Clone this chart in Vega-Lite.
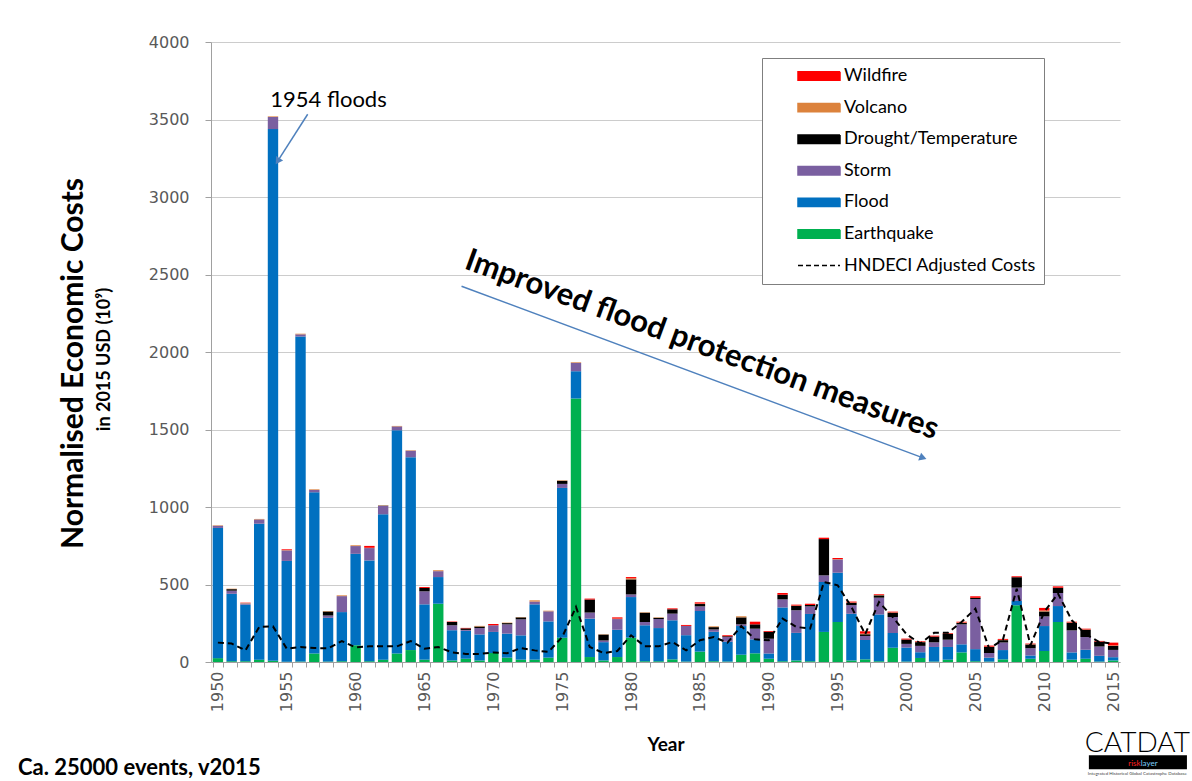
{
  "$schema": "https://vega.github.io/schema/vega-lite/v6.json",
  "width": 909,
  "height": 620,
  "autosize": {"type": "none"},
  "padding": {"left": 211, "top": 42, "right": 72, "bottom": 119},
  "background": "white",
  "title": {
    "text": "Ca. 25000 events, v2015",
    "orient": "bottom",
    "anchor": "start",
    "frame": "group",
    "font": "Lato",
    "fontSize": 22,
    "fontWeight": "bold",
    "color": "black",
    "dx": -193,
    "offset": -18
  },
  "config": {
    "view": {"stroke": null},
    "font": "Lato"
  },
  "datasets": {
    "stackRank": [
      {"hazard": "Earthquake", "rank": 1},
      {"hazard": "Flood", "rank": 2},
      {"hazard": "Storm", "rank": 3},
      {"hazard": "Drought/Temperature", "rank": 4},
      {"hazard": "Volcano", "rank": 5},
      {"hazard": "Wildfire", "rank": 6}
    ]
  },
  "data": {
    "values": [
      {"year": 1950, "Earthquake": 25, "Flood": 840, "Storm": 14, "Drought/Temperature": 0, "Volcano": 3, "Wildfire": 0, "HNDECI": 125},
      {"year": 1951, "Earthquake": 5, "Flood": 435, "Storm": 20, "Drought/Temperature": 10, "Volcano": 3, "Wildfire": 0, "HNDECI": 119},
      {"year": 1952, "Earthquake": 5, "Flood": 365, "Storm": 8, "Drought/Temperature": 0, "Volcano": 3, "Wildfire": 2, "HNDECI": 75},
      {"year": 1953, "Earthquake": 15, "Flood": 877, "Storm": 28, "Drought/Temperature": 0, "Volcano": 3, "Wildfire": 0, "HNDECI": 226},
      {"year": 1954, "Earthquake": 8, "Flood": 3430, "Storm": 78, "Drought/Temperature": 0, "Volcano": 4, "Wildfire": 0, "HNDECI": 230},
      {"year": 1955, "Earthquake": 2, "Flood": 650, "Storm": 68, "Drought/Temperature": 0, "Volcano": 2, "Wildfire": 5, "HNDECI": 86},
      {"year": 1956, "Earthquake": 3, "Flood": 2097, "Storm": 14, "Drought/Temperature": 0, "Volcano": 4, "Wildfire": 0, "HNDECI": 97},
      {"year": 1957, "Earthquake": 55, "Flood": 1040, "Storm": 15, "Drought/Temperature": 0, "Volcano": 4, "Wildfire": 0, "HNDECI": 90},
      {"year": 1958, "Earthquake": 3, "Flood": 282, "Storm": 15, "Drought/Temperature": 26, "Volcano": 3, "Wildfire": 0, "HNDECI": 88},
      {"year": 1959, "Earthquake": 5, "Flood": 317, "Storm": 103, "Drought/Temperature": 0, "Volcano": 5, "Wildfire": 0, "HNDECI": 135},
      {"year": 1960, "Earthquake": 108, "Flood": 590, "Storm": 50, "Drought/Temperature": 0, "Volcano": 5, "Wildfire": 0, "HNDECI": 94},
      {"year": 1961, "Earthquake": 5, "Flood": 650, "Storm": 80, "Drought/Temperature": 0, "Volcano": 2, "Wildfire": 12, "HNDECI": 101},
      {"year": 1962, "Earthquake": 15, "Flood": 938, "Storm": 54, "Drought/Temperature": 2, "Volcano": 2, "Wildfire": 0, "HNDECI": 101},
      {"year": 1963, "Earthquake": 55, "Flood": 1440, "Storm": 25, "Drought/Temperature": 0, "Volcano": 3, "Wildfire": 0, "HNDECI": 101},
      {"year": 1964, "Earthquake": 77, "Flood": 1244, "Storm": 42, "Drought/Temperature": 0, "Volcano": 3, "Wildfire": 0, "HNDECI": 135},
      {"year": 1965, "Earthquake": 15, "Flood": 357, "Storm": 84, "Drought/Temperature": 22, "Volcano": 0, "Wildfire": 6, "HNDECI": 86},
      {"year": 1966, "Earthquake": 376, "Flood": 172, "Storm": 38, "Drought/Temperature": 0, "Volcano": 6, "Wildfire": 0, "HNDECI": 97},
      {"year": 1967, "Earthquake": 10, "Flood": 195, "Storm": 32, "Drought/Temperature": 21, "Volcano": 0, "Wildfire": 3, "HNDECI": 62},
      {"year": 1968, "Earthquake": 21, "Flood": 180, "Storm": 6, "Drought/Temperature": 10, "Volcano": 0, "Wildfire": 3, "HNDECI": 52},
      {"year": 1969, "Earthquake": 10, "Flood": 168, "Storm": 41, "Drought/Temperature": 10, "Volcano": 4, "Wildfire": 0, "HNDECI": 52},
      {"year": 1970, "Earthquake": 58, "Flood": 136, "Storm": 43, "Drought/Temperature": 0, "Volcano": 0, "Wildfire": 8, "HNDECI": 62},
      {"year": 1971, "Earthquake": 28, "Flood": 155, "Storm": 60, "Drought/Temperature": 8, "Volcano": 3, "Wildfire": 0, "HNDECI": 57},
      {"year": 1972, "Earthquake": 15, "Flood": 157, "Storm": 103, "Drought/Temperature": 13, "Volcano": 2, "Wildfire": 0, "HNDECI": 90},
      {"year": 1973, "Earthquake": 15, "Flood": 357, "Storm": 18, "Drought/Temperature": 0, "Volcano": 8, "Wildfire": 0, "HNDECI": 75},
      {"year": 1974, "Earthquake": 28, "Flood": 234, "Storm": 65, "Drought/Temperature": 0, "Volcano": 4, "Wildfire": 0, "HNDECI": 65},
      {"year": 1975, "Earthquake": 157, "Flood": 966, "Storm": 26, "Drought/Temperature": 20, "Volcano": 3, "Wildfire": 0, "HNDECI": 161},
      {"year": 1976, "Earthquake": 1700, "Flood": 176, "Storm": 54, "Drought/Temperature": 0, "Volcano": 4, "Wildfire": 0, "HNDECI": 355},
      {"year": 1977, "Earthquake": 32, "Flood": 248, "Storm": 39, "Drought/Temperature": 84, "Volcano": 0, "Wildfire": 6, "HNDECI": 97},
      {"year": 1978, "Earthquake": 10, "Flood": 118, "Storm": 11, "Drought/Temperature": 38, "Volcano": 2, "Wildfire": 0, "HNDECI": 58},
      {"year": 1979, "Earthquake": 32, "Flood": 176, "Storm": 69, "Drought/Temperature": 0, "Volcano": 3, "Wildfire": 8, "HNDECI": 71},
      {"year": 1980, "Earthquake": 157, "Flood": 262, "Storm": 17, "Drought/Temperature": 97, "Volcano": 7, "Wildfire": 8, "HNDECI": 172},
      {"year": 1981, "Earthquake": 5, "Flood": 232, "Storm": 21, "Drought/Temperature": 60, "Volcano": 3, "Wildfire": 0, "HNDECI": 101},
      {"year": 1982, "Earthquake": 5, "Flood": 214, "Storm": 58, "Drought/Temperature": 8, "Volcano": 3, "Wildfire": 0, "HNDECI": 101},
      {"year": 1983, "Earthquake": 17, "Flood": 252, "Storm": 43, "Drought/Temperature": 28, "Volcano": 0, "Wildfire": 6, "HNDECI": 129},
      {"year": 1984, "Earthquake": 3, "Flood": 170, "Storm": 60, "Drought/Temperature": 0, "Volcano": 0, "Wildfire": 6, "HNDECI": 75},
      {"year": 1985, "Earthquake": 67, "Flood": 262, "Storm": 30, "Drought/Temperature": 15, "Volcano": 3, "Wildfire": 8, "HNDECI": 140},
      {"year": 1986, "Earthquake": 5, "Flood": 190, "Storm": 15, "Drought/Temperature": 15, "Volcano": 5, "Wildfire": 0, "HNDECI": 161},
      {"year": 1987, "Earthquake": 3, "Flood": 127, "Storm": 32, "Drought/Temperature": 4, "Volcano": 0, "Wildfire": 6, "HNDECI": 125},
      {"year": 1988, "Earthquake": 47, "Flood": 185, "Storm": 11, "Drought/Temperature": 45, "Volcano": 7, "Wildfire": 0, "HNDECI": 232},
      {"year": 1989, "Earthquake": 56, "Flood": 90, "Storm": 69, "Drought/Temperature": 28, "Volcano": 0, "Wildfire": 17, "HNDECI": 146},
      {"year": 1990, "Earthquake": 21, "Flood": 34, "Storm": 95, "Drought/Temperature": 45, "Volcano": 0, "Wildfire": 5, "HNDECI": 140},
      {"year": 1991, "Earthquake": 5, "Flood": 347, "Storm": 52, "Drought/Temperature": 30, "Volcano": 0, "Wildfire": 11, "HNDECI": 280},
      {"year": 1992, "Earthquake": 10, "Flood": 178, "Storm": 146, "Drought/Temperature": 28, "Volcano": 2, "Wildfire": 6, "HNDECI": 226},
      {"year": 1993, "Earthquake": 5, "Flood": 305, "Storm": 49, "Drought/Temperature": 9, "Volcano": 0, "Wildfire": 8, "HNDECI": 215},
      {"year": 1994, "Earthquake": 194, "Flood": 322, "Storm": 43, "Drought/Temperature": 234, "Volcano": 0, "Wildfire": 9, "HNDECI": 516},
      {"year": 1995, "Earthquake": 258, "Flood": 318, "Storm": 86, "Drought/Temperature": 0, "Volcano": 2, "Wildfire": 7, "HNDECI": 495},
      {"year": 1996, "Earthquake": 10, "Flood": 301, "Storm": 56, "Drought/Temperature": 15, "Volcano": 2, "Wildfire": 6, "HNDECI": 355},
      {"year": 1997, "Earthquake": 17, "Flood": 125, "Storm": 26, "Drought/Temperature": 11, "Volcano": 4, "Wildfire": 15, "HNDECI": 179},
      {"year": 1998, "Earthquake": 5, "Flood": 302, "Storm": 108, "Drought/Temperature": 15, "Volcano": 2, "Wildfire": 5, "HNDECI": 387},
      {"year": 1999, "Earthquake": 92, "Flood": 95, "Storm": 103, "Drought/Temperature": 28, "Volcano": 2, "Wildfire": 5, "HNDECI": 290},
      {"year": 2000, "Earthquake": 3, "Flood": 90, "Storm": 24, "Drought/Temperature": 28, "Volcano": 0, "Wildfire": 6, "HNDECI": 179},
      {"year": 2001, "Earthquake": 26, "Flood": 37, "Storm": 41, "Drought/Temperature": 24, "Volcano": 2, "Wildfire": 4, "HNDECI": 119},
      {"year": 2002, "Earthquake": 3, "Flood": 94, "Storm": 30, "Drought/Temperature": 37, "Volcano": 0, "Wildfire": 6, "HNDECI": 188},
      {"year": 2003, "Earthquake": 15, "Flood": 82, "Storm": 47, "Drought/Temperature": 37, "Volcano": 2, "Wildfire": 4, "HNDECI": 188},
      {"year": 2004, "Earthquake": 62, "Flood": 52, "Storm": 129, "Drought/Temperature": 9, "Volcano": 3, "Wildfire": 5, "HNDECI": 258},
      {"year": 2005, "Earthquake": 5, "Flood": 78, "Storm": 323, "Drought/Temperature": 8, "Volcano": 0, "Wildfire": 10, "HNDECI": 344},
      {"year": 2006, "Earthquake": 3, "Flood": 25, "Storm": 30, "Drought/Temperature": 39, "Volcano": 2, "Wildfire": 7, "HNDECI": 86},
      {"year": 2007, "Earthquake": 17, "Flood": 60, "Storm": 49, "Drought/Temperature": 15, "Volcano": 2, "Wildfire": 6, "HNDECI": 144},
      {"year": 2008, "Earthquake": 366, "Flood": 28, "Storm": 86, "Drought/Temperature": 67, "Volcano": 0, "Wildfire": 6, "HNDECI": 473},
      {"year": 2009, "Earthquake": 21, "Flood": 21, "Storm": 47, "Drought/Temperature": 24, "Volcano": 2, "Wildfire": 4, "HNDECI": 108},
      {"year": 2010, "Earthquake": 71, "Flood": 161, "Storm": 62, "Drought/Temperature": 32, "Volcano": 6, "Wildfire": 17, "HNDECI": 323},
      {"year": 2011, "Earthquake": 258, "Flood": 103, "Storm": 84, "Drought/Temperature": 34, "Volcano": 0, "Wildfire": 9, "HNDECI": 441},
      {"year": 2012, "Earthquake": 15, "Flood": 47, "Storm": 142, "Drought/Temperature": 49, "Volcano": 2, "Wildfire": 5, "HNDECI": 269},
      {"year": 2013, "Earthquake": 21, "Flood": 58, "Storm": 82, "Drought/Temperature": 47, "Volcano": 2, "Wildfire": 5, "HNDECI": 179},
      {"year": 2014, "Earthquake": 3, "Flood": 37, "Storm": 60, "Drought/Temperature": 32, "Volcano": 0, "Wildfire": 4, "HNDECI": 129},
      {"year": 2015, "Earthquake": 10, "Flood": 21, "Storm": 47, "Drought/Temperature": 26, "Volcano": 3, "Wildfire": 18, "HNDECI": 118}
    ]
  },
  "resolve": {
    "scale": {"x": "independent"},
    "axis": {"x": "independent", "y": "independent"}
  },
  "layer": [
    {
      "transform": [
        {"fold": ["Earthquake", "Flood", "Storm", "Drought/Temperature", "Volcano", "Wildfire"], "as": ["hazard", "cost"]},
        {"lookup": "hazard", "from": {"data": {"name": "stackRank"}, "key": "hazard", "fields": ["rank"]}}
      ],
      "mark": {"type": "bar"},
      "encoding": {
        "x": {
          "field": "year",
          "type": "ordinal",
          "scale": {"type": "band", "paddingInner": 0.245, "paddingOuter": 0.1225},
          "axis": {
            "title": "Year",
            "labelExpr": "datum.value % 5 === 0 ? datum.label : ''",
            "labelAngle": 270,
            "labelOverlap": false,
            "labelFont": "DejaVu Sans",
            "labelFontSize": 16,
            "labelColor": "#595959",
            "labelPadding": 4,
            "tickBand": "extent",
            "tickSize": 5,
            "tickColor": "#a0a0a0",
            "domainColor": "#a0a0a0",
            "grid": false,
            "titleFont": "Lato",
            "titleFontSize": 19,
            "titleFontWeight": "bold",
            "titleColor": "black",
            "titleY": 73
          }
        },
        "y": {
          "field": "cost",
          "type": "quantitative",
          "stack": "zero",
          "scale": {"domain": [0, 4000], "nice": false},
          "axis": {
            "title": "Normalised Economic Costs",
            "values": [0, 500, 1000, 1500, 2000, 2500, 3000, 3500, 4000],
            "format": "d",
            "grid": true,
            "gridColor": "#cccccc",
            "domainColor": "#a0a0a0",
            "tickColor": "#a0a0a0",
            "tickSize": 6,
            "labelPadding": 16,
            "labelFont": "DejaVu Sans",
            "labelFontSize": 16,
            "labelColor": "#595959",
            "titleFont": "Lato",
            "titleFontSize": 30,
            "titleFontWeight": "bold",
            "titleColor": "black",
            "titleX": -123,
            "titleY": 321
          }
        },
        "order": {"field": "rank", "type": "quantitative", "sort": "ascending"},
        "color": {
          "field": "hazard",
          "type": "nominal",
          "scale": {
            "domain": ["Earthquake", "Flood", "Storm", "Drought/Temperature", "Volcano", "Wildfire", "HNDECI Adjusted Costs"],
            "range": ["#00b050", "#0070c0", "#7a5fa0", "#000000", "#dc823c", "#ff0000", "#000000"]
          },
          "legend": {
            "title": null,
            "orient": "none",
            "legendX": 551,
            "legendY": 16,
            "direction": "vertical",
            "values": ["Wildfire", "Volcano", "Drought/Temperature", "Storm", "Flood", "Earthquake", "HNDECI Adjusted Costs"],
            "strokeColor": "#7f7f7f",
            "fillColor": "white",
            "padding": 8,
            "symbolType": "M-1,-0.2H1V0.2H-1Z",
            "symbolSize": 1764,
            "symbolOpacity": 1,
            "symbolOffset": 27,
            "labelOffset": 3,
            "clipHeight": 20,
            "rowPadding": 11.6,
            "labelFont": "Lato",
            "labelFontSize": 18,
            "labelColor": "black",
            "labelLimit": 400,
            "encode": {
              "symbols": {
                "update": {
                  "shape": {"signal": "datum.value === 'HNDECI Adjusted Costs' ? 'stroke' : 'M-1,-0.2H1V0.2H-1Z'"},
                  "fill": {"signal": "datum.value === 'HNDECI Adjusted Costs' ? 'transparent' : scale('color', datum.value)"},
                  "stroke": {"signal": "datum.value === 'HNDECI Adjusted Costs' ? '#000000' : 'transparent'"},
                  "strokeDash": {"signal": "datum.value === 'HNDECI Adjusted Costs' ? [5, 3] : [1, 0]"},
                  "strokeWidth": {"value": 1.5},
                  "opacity": {"value": 1}
                }
              }
            }
          }
        }
      }
    },
    {
      "mark": {"type": "line", "strokeDash": [6, 4], "strokeWidth": 2},
      "encoding": {
        "x": {"field": "year", "type": "ordinal", "axis": null},
        "y": {
          "field": "HNDECI",
          "type": "quantitative",
          "scale": {"domain": [0, 4000], "nice": false},
          "axis": {
            "orient": "left",
            "title": "in 2015 USD (10⁹)",
            "grid": false,
            "labels": false,
            "ticks": false,
            "domain": false,
            "titleFont": "Lato",
            "titleFontSize": 18,
            "titleFontWeight": "bold",
            "titleColor": "black",
            "titleX": -98,
            "titleY": 317
          }
        },
        "color": {"datum": "HNDECI Adjusted Costs"}
      }
    },
    {
      "data": {"values": [{}]},
      "layer": [
        {
          "mark": {"type": "text", "text": "1954 floods", "font": "Lato", "fontSize": 22, "align": "center", "baseline": "middle", "color": "black"},
          "encoding": {
            "x": {"datum": 1958.03, "type": "quantitative", "scale": {"domain": [1949.5, 2015.5], "nice": false, "zero": false}, "axis": null},
            "y": {"datum": 3624, "type": "quantitative", "scale": {"domain": [0, 4000], "nice": false}, "axis": null}
          }
        },
        {
          "mark": {"type": "rule", "color": "#4f81bd", "strokeWidth": 1.5},
          "encoding": {
            "x": {"datum": 1956.52, "type": "quantitative", "scale": {"domain": [1949.5, 2015.5], "nice": false, "zero": false}, "axis": null},
            "y": {"datum": 3534, "type": "quantitative", "scale": {"domain": [0, 4000], "nice": false}, "axis": null},
            "x2": {"datum": 1954.34},
            "y2": {"datum": 3231}
          }
        },
        {
          "mark": {"type": "point", "shape": "triangle-down", "filled": true, "size": 70, "angle": 33, "color": "#4f81bd", "opacity": 1},
          "encoding": {
            "x": {"datum": 1954.34, "type": "quantitative", "scale": {"domain": [1949.5, 2015.5], "nice": false, "zero": false}, "axis": null},
            "y": {"datum": 3231, "type": "quantitative", "scale": {"domain": [0, 4000], "nice": false}, "axis": null}
          }
        },
        {
          "mark": {"type": "text", "text": "Improved flood protection measures", "font": "Lato", "fontSize": 31, "fontWeight": "bold", "angle": 20, "align": "center", "baseline": "middle", "color": "black"},
          "encoding": {
            "x": {"datum": 1985.13, "type": "quantitative", "scale": {"domain": [1949.5, 2015.5], "nice": false, "zero": false}, "axis": null},
            "y": {"datum": 2043, "type": "quantitative", "scale": {"domain": [0, 4000], "nice": false}, "axis": null}
          }
        },
        {
          "mark": {"type": "rule", "color": "#4f81bd", "strokeWidth": 1.5},
          "encoding": {
            "x": {"datum": 1967.69, "type": "quantitative", "scale": {"domain": [1949.5, 2015.5], "nice": false, "zero": false}, "axis": null},
            "y": {"datum": 2424, "type": "quantitative", "scale": {"domain": [0, 4000], "nice": false}, "axis": null},
            "x2": {"datum": 2001.2},
            "y2": {"datum": 1317}
          }
        },
        {
          "mark": {"type": "point", "shape": "triangle-right", "filled": true, "size": 70, "angle": 20, "color": "#4f81bd", "opacity": 1},
          "encoding": {
            "x": {"datum": 2001.2, "type": "quantitative", "scale": {"domain": [1949.5, 2015.5], "nice": false, "zero": false}, "axis": null},
            "y": {"datum": 1317, "type": "quantitative", "scale": {"domain": [0, 4000], "nice": false}, "axis": null}
          }
        },
        {
          "mark": {"type": "text", "text": "CATDAT", "font": "Lato", "fontSize": 28, "fontWeight": 300, "align": "center", "baseline": "middle", "color": "black"},
          "encoding": {
            "x": {"datum": 2016.76, "type": "quantitative", "scale": {"domain": [1949.5, 2015.5], "nice": false, "zero": false}, "axis": null},
            "y": {"datum": -531, "type": "quantitative", "scale": {"domain": [0, 4000], "nice": false}, "axis": null}
          }
        },
        {
          "mark": {"type": "rect", "color": "black"},
          "encoding": {
            "x": {"datum": 2013.24, "type": "quantitative", "scale": {"domain": [1949.5, 2015.5], "nice": false, "zero": false}, "axis": null},
            "x2": {"datum": 2020.36},
            "y": {"datum": -602, "type": "quantitative", "scale": {"domain": [0, 4000], "nice": false}, "axis": null},
            "y2": {"datum": -692}
          }
        },
        {
          "mark": {"type": "text", "text": "risk", "font": "Lato", "fontSize": 8, "align": "right", "baseline": "middle", "color": "#ff2020"},
          "encoding": {
            "x": {"datum": 2017.0, "type": "quantitative", "scale": {"domain": [1949.5, 2015.5], "nice": false, "zero": false}, "axis": null},
            "y": {"datum": -660, "type": "quantitative", "scale": {"domain": [0, 4000], "nice": false}, "axis": null}
          }
        },
        {
          "mark": {"type": "text", "text": "layer", "font": "Lato", "fontSize": 8, "align": "left", "baseline": "middle", "color": "#7fd0ff"},
          "encoding": {
            "x": {"datum": 2017.0, "type": "quantitative", "scale": {"domain": [1949.5, 2015.5], "nice": false, "zero": false}, "axis": null},
            "y": {"datum": -660, "type": "quantitative", "scale": {"domain": [0, 4000], "nice": false}, "axis": null}
          }
        },
        {
          "mark": {"type": "text", "text": "Integrated Historical Global Catastrophe Database", "font": "Lato", "fontSize": 4.5, "align": "center", "baseline": "middle", "color": "#444444"},
          "encoding": {
            "x": {"datum": 2016.76, "type": "quantitative", "scale": {"domain": [1949.5, 2015.5], "nice": false, "zero": false}, "axis": null},
            "y": {"datum": -725, "type": "quantitative", "scale": {"domain": [0, 4000], "nice": false}, "axis": null}
          }
        }
      ]
    }
  ]
}
